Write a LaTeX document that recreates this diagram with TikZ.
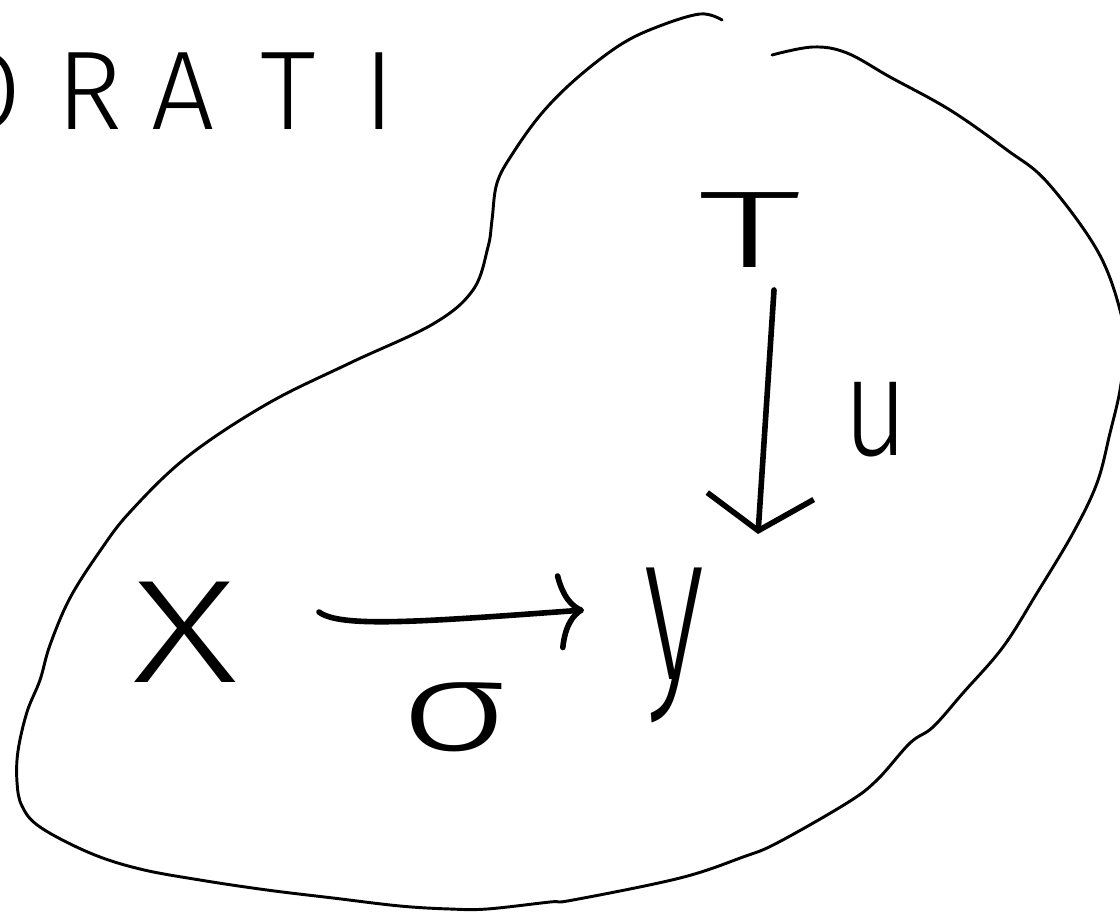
\documentclass[tikz,border=0pt]{standalone}
\usepackage{fontspec}
\newfontfamily\hand{Fira Sans Light}
\usetikzlibrary{arrows.meta}
\tikzset{
  blob/.style={line width=2.2pt, line cap=round, line join=round},
  arr/.style={line width=4.2pt, line cap=round, line join=round},
  hw/.style={inner sep=0pt, font=\hand},
}
\begin{document}
\begin{tikzpicture}[x=0.75pt,y=-0.75pt]
\useasboundingbox (0,0) rectangle (1120,913);
% title
\node[hw, anchor=base west, font=\hand\fontsize{84}{84}\selectfont] (title) at (-56,130)
  {O\kern26pt R\kern22pt A\kern34pt T\kern36pt I};
% outline
\draw[blob] plot[smooth, tension=0.6] coordinates {
(722,20) (700,14) (657,27) (620,45) (577,78) (542,113) (513,153) (497,183)
(492,220) (488,247) (473,290) (433,324) (350,363) (267,404) (187,457)
(130,512) (100,551) (70,598) (50,645) (40,680) (27,712) (18,751) (17,782)
(22,806) (40,827) (90,853) (140,869) (200,880) (267,890) (333,898)
(400,906) (450,909) (487,909) (550,902) (573,900) (680,878) (743,857)
(777,843) (847,803) (877,780) (910,743) (933,727) (963,693) (1003,647)
(1037,593) (1073,533) (1097,483) (1110,433) (1120,390) (1124,350)
(1120,310) (1097,250) (1047,182) (1007,150) (950,110) (890,77) (847,53)
(813,47) (772,55)};
% nodes
\node[hw, font=\hand\fontsize{82}{82}\selectfont, xscale=1.9] (T) at (750,230) {T};
\node[hw, font=\hand\fontsize{105}{105}\selectfont, xscale=0.8] (U) at (876,420) {u};
\node[hw, font=\hand\fontsize{110}{110}\selectfont, xscale=1.4] (X) at (185,632) {X};
\node[hw, font=\hand\fontsize{160}{160}\selectfont, xscale=0.6] (Y) at (674,645) {y};
\node[hw, font=\hand\fontsize{96}{96}\selectfont, xscale=1.5] (S) at (455,717) {σ};
% connectors
\coordinate (vs) at (774,290);
\coordinate (ve) at (758,534);
\coordinate (hs) at (319,612);
\coordinate (he) at (584,610);
\draw[arr, -{Straight Barb[length=26pt,width=80pt,line width=4.2pt]}] (vs) -- (ve);
\draw[arr, -{Computer Modern Rightarrow[length=20pt,width=58pt,line width=4.2pt]}] (hs) .. controls (340,628) and (420,622) .. (he);
\end{tikzpicture}
\end{document}
